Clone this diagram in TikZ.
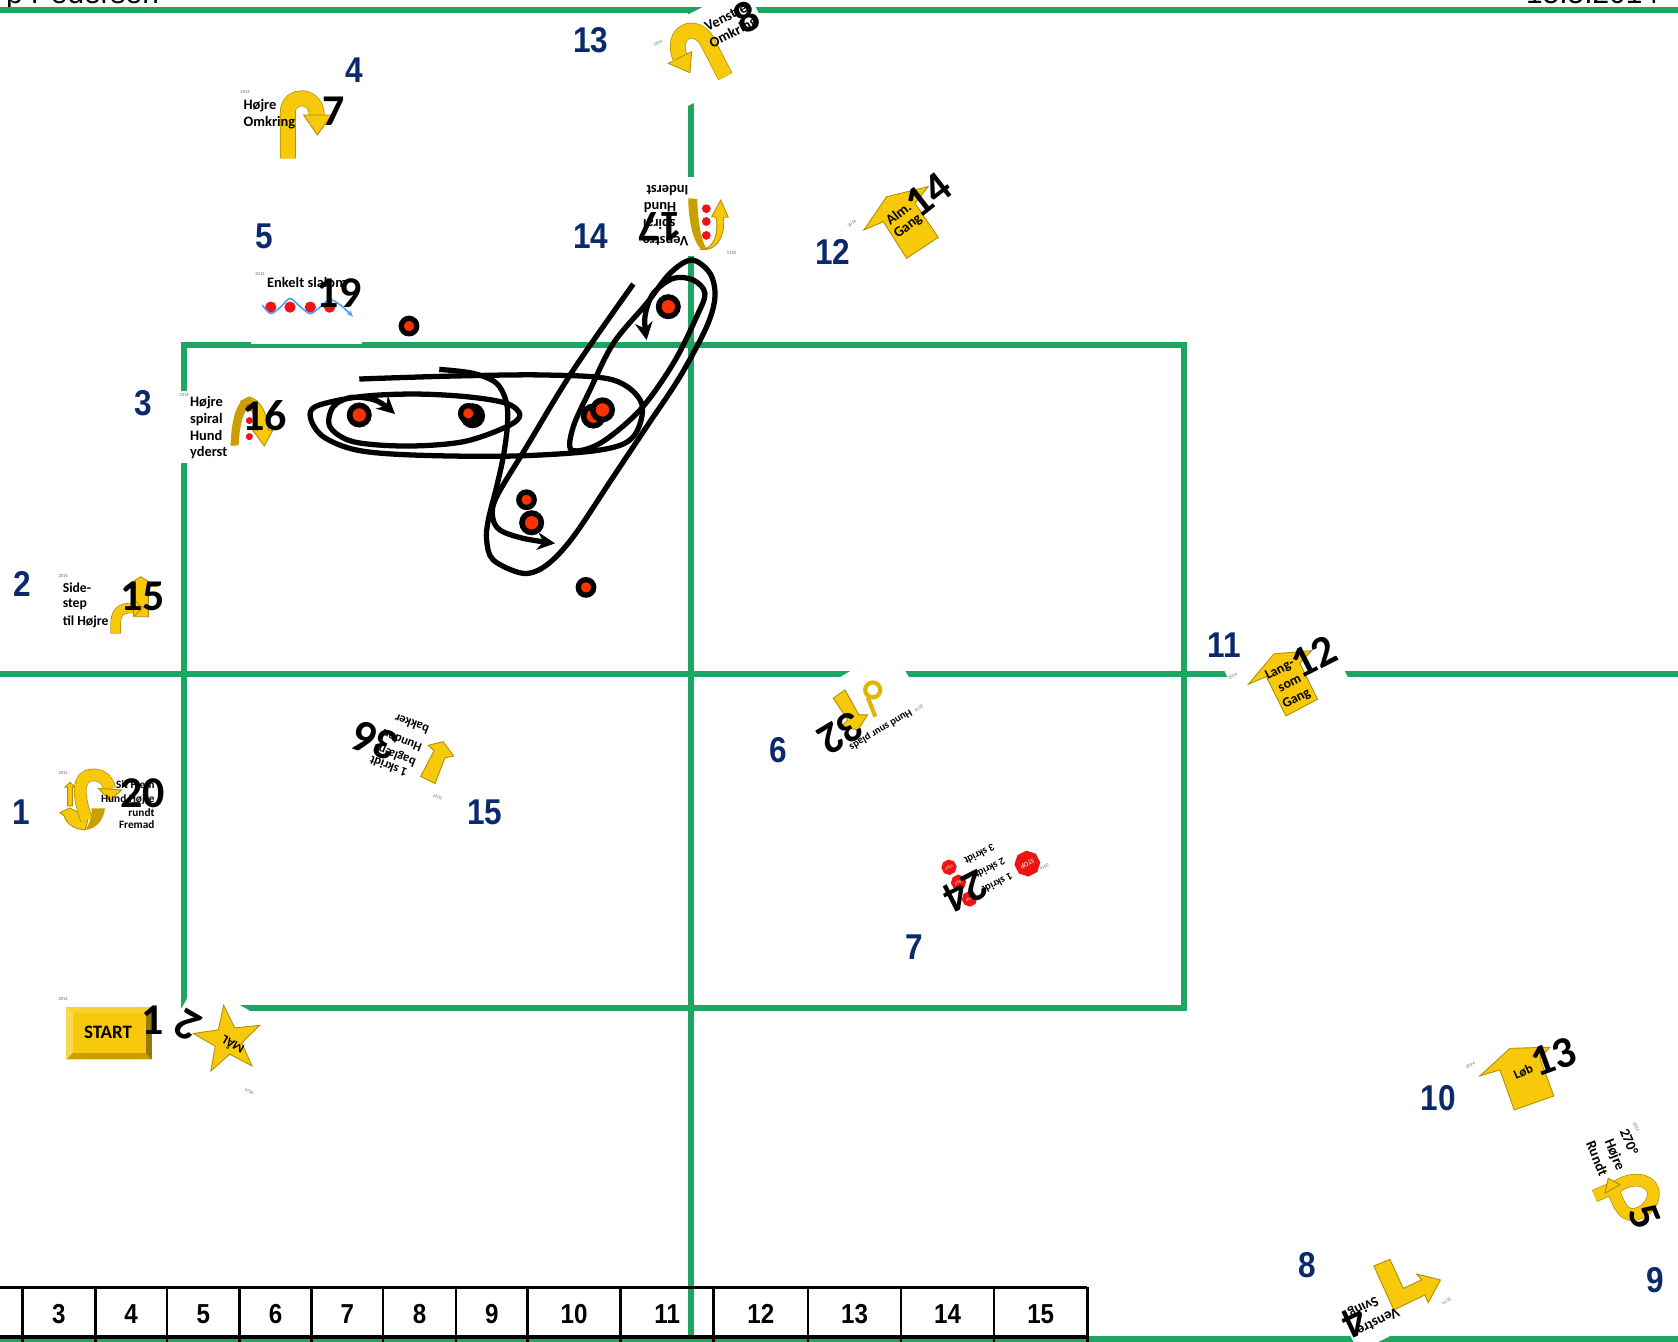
\documentclass[tikz,border=0pt]{standalone}
\usepackage{fontspec}
\usepackage{xcolor}
\usepackage{tikz}
\usetikzlibrary{arrows.meta, shapes.geometric, shapes.misc}
\setmainfont{Carlito}
\newfontfamily\numfont{Liberation Sans}
\newfontfamily\posfont[FakeStretch=0.88]{Liberation Sans}
\definecolor{ringgreen}{RGB}{30,165,97}
\definecolor{posblue}{RGB}{10,42,108}
\definecolor{signyellow}{RGB}{247,201,10}
\definecolor{signedge}{RGB}{176,143,0}
\definecolor{darkgold}{RGB}{201,160,0}
\definecolor{dotred}{RGB}{255,51,0}
\definecolor{stopred}{RGB}{238,20,20}
\newcommand{\sz}[1]{\fontsize{#1}{#1}\selectfont}
\newcommand{\cardmask}[5]{\fill[white, shift={(#1,#2)}, rotate=#3] (-#4/2,-#5/2) rectangle (#4/2,#5/2);}
\begin{document}
\begin{tikzpicture}[
    x=0.0107015cm, y=-0.0107015cm,
    ringline/.style={ringgreen, line width=1.7pt},
    poslabel/.style={font=\posfont\sz{10.2}\bfseries, text=posblue, inner sep=0pt},
    collabel/.style={font=\posfont\sz{7.8}\bfseries, inner sep=0pt},
    tableline/.style={black, line width=0.75pt},
    bignum/.style={font=\sz{12.5}\bfseries, inner sep=0pt},
    signtext/.style={font=\sz{#1}\bfseries, inner sep=0pt},
    signtext/.default=4.1,
    marktext/.style={font=\sz{1.3}, text=black!60, inner sep=0pt},
    plate/.style={fill=signyellow, draw=signedge, line width=0.25pt},
    tube/.style={draw=signedge, double=signyellow, double distance=#1, line width=0.2pt},
    tube/.default=4.1pt,
    smalldot/.style={circle, fill=dotred, draw=black, line width=1.5pt, minimum size=4.4pt, inner sep=0pt},
    bigdot/.style={circle, fill=dotred, draw=black, line width=1.6pt, minimum size=5.5pt, inner sep=0pt},
    slalomdot/.style={circle, fill=stopred, minimum size=3.2pt, inner sep=0pt},
    stopsign/.style={regular polygon, regular polygon sides=8, fill=stopred, text=white, inner sep=0pt},
    route/.style={black, line width=1.5pt, line join=round},
    routetip/.style={-{Stealth[length=5pt,width=5pt]}}
  ]
    \useasboundingbox (0,0) rectangle (1568,1254);
    \clip (0,0) rectangle (1568,1254);

    \node[font=\numfont\sz{8.5}, anchor=base west, inner sep=0pt] (trial) at (5,3) {p Pedersen};
    \node[font=\numfont\sz{8.5}, anchor=base east, inner sep=0pt] (date) at (1551,3) {15.5.2014};

    \draw[ringline] (0,9.5) -- (1568,9.5);
    \draw[ringline] (0,1251) -- (1568,1251);
    \draw[ringline] (0,630) -- (1568,630);
    \draw[ringline] (646,9.5) -- (646,1254);
    \draw[ringline] (172,322) rectangle (1106,942);

    \cardmask{286.5}{285.5}{0}{103}{71}
    \cardmask{213}{399}{0}{90}{68}
    \cardmask{641.5}{202}{0}{97}{74}
    \cardmask{669}{43}{27}{99}{76}
    \cardmask{1207}{640}{27}{100}{90}
    \cardmask{801}{664}{211}{115}{70}
    \cardmask{196}{986.5}{150}{90}{110}
    \cardmask{1296}{1205}{207}{100}{80}

    \foreach \x/\y/\r [count=\i] in {229/86/0, 172/369/0, 243/256/0, 59/538/0, 59/722/0, 59/934/0, 233/1020/150, 615/40/27, 684/236/180, 796/209/38, 1152/632/27, 859/662/211, 409/745/159, 976/810/207, 1374/995/24, 1529/1053/-68, 1352/1216/207}
      \node[marktext, rotate=\r] (mark\i) at (\x,\y) {2014};

    % start
    \fill[signyellow!70!white] (62,941) rectangle (142,990);
    \fill[signyellow!85!white] (62,941) -- (142,941) -- (136,947) -- (68,947) -- cycle;
    \fill[darkgold] (62,990) -- (142,990) -- (136,984) -- (68,984) -- cycle;
    \fill[signedge!85!black] (142,941) -- (142,990) -- (136,984) -- (136,947) -- cycle;
    \fill[signyellow] (68,947) rectangle (136,984);
    \node[signtext=5.4] (starttext) at (101,965) {START};
    \node[bignum] (num1) at (143,953) {1};

    % finish
    \node[star, star points=5, star point ratio=2.5, plate, minimum size=20pt, inner sep=0pt, rotate=7] (finish) at (213,972) {};
    \node[signtext=3.6, rotate=150] (finishtext) at (217,977) {MÅL};
    \node[bignum, rotate=150] (num2) at (175,958) {2};

    % turn right
    \draw[tube] (269,148) -- (269,105) .. controls (269,87) and (296,87) .. (296,108);
    \fill[plate] (283.7,107.5) -- (296.5,126) -- (310,107.5) -- cycle;
    \node[signtext, anchor=west] (rturna) at (227,99) {Højre};
    \node[signtext, anchor=west] (rturnb) at (227,115) {Omkring};
    \node[bignum] (num7) at (312,104) {7};

    % slalom
    \foreach \x [count=\i] in {253,271,290,308}
      \node[slalomdot] (slalom\i) at (\x,287) {};
    \draw[blue!55!cyan!70!white, line width=0.45pt, -{Stealth[length=2pt]}] plot[smooth] coordinates {(245,285) (253,293) (262,287) (271,279) (281,287) (290,293) (299,287) (308,280) (318,285) (330,296)};
    \node[signtext, anchor=west] (slalomtext) at (249,264) {Enkelt slalom};
    \node[bignum] (num19) at (317,274) {19};

    % right spiral
    \fill[plate] (233,371) .. controls (242,373) and (250,385) .. (251,402) -- (255,402) -- (247,416.8) -- (236,402) -- (241,402) .. controls (240,390) and (234,378) .. (225,375) -- cycle;
    \fill[darkgold] (215.5,416.8) .. controls (216,390) and (222,372) .. (233,371) -- (238,376) .. controls (228,380) and (224,395) .. (223,416) -- cycle;
    \foreach \y [count=\i] in {381,393,408}
      \node[slalomdot, minimum size=2pt] (rspiral\i) at (233,\y) {};
    \node[signtext, anchor=west] (rspirala) at (177,376) {Højre};
    \node[signtext, anchor=west] (rspiralb) at (177,392) {spiral};
    \node[signtext, anchor=west] (rspiralc) at (177,407) {Hund};
    \node[signtext, anchor=west] (rspirald) at (177,423) {yderst};
    \node[bignum] (num16) at (247,388) {16};

    % sidestep
    \fill[plate] (126.2,576.3) -- (138.6,576.3) -- (138.6,548) -- (146.4,548) -- (131.5,539) -- (116.8,548) -- (126.2,548) -- cycle;
    \draw[tube=2.6pt] (108,592) -- (108,585) .. controls (108,572) and (112,568) .. (124.6,568);
    \fill[plate] (124.6,559.7) -- (133.3,568) -- (124.6,576.3) -- cycle;
    \node[signtext=3.9, anchor=west] (sidea) at (58,549) {Side-};
    \node[signtext=3.9, anchor=west] (sideb) at (58,565) {step};
    \node[signtext=3.9, anchor=west] (sidec) at (58,581) {til Højre};
    \node[bignum] (num15) at (133,557) {15};

    % sit forward
    \fill[plate] (63.2,753) -- (67.6,753) -- (67.6,735.5) -- (70,735.5) -- (65.4,730.9) -- (60.7,735.5) -- (63.2,735.5) -- cycle;
    \fill[darkgold] (85.6,755.4) -- (98.1,755.4) .. controls (97,766) and (90,775) .. (79.4,775.5) .. controls (84,770) and (86,762) .. (85.6,755.4) -- cycle;
    \fill[plate] (56,759.4) -- (65,755) -- (77,761) -- (82,767) -- (79.4,775.5) .. controls (70,775) and (62,770) .. (60,762.5) -- cycle;
    \draw[tube=3.2pt] (81,766) .. controls (73,745) and (71,724) .. (87.2,724.2) .. controls (96,724) and (101,730) .. (102.5,737.3);
    \fill[plate] (91.9,736.7) -- (102.8,748) -- (113.5,738.2) -- cycle;
    \node[signtext=3.2, anchor=east] (sita) at (145,733) {Sit Frem};
    \node[signtext=3.2, anchor=east] (sitb) at (145,747) {Hund Højre};
    \node[signtext=3.2, anchor=east] (sitc) at (145,759) {rundt};
    \node[signtext=3.2, anchor=east] (sitd) at (145,771) {Fremad};
    \node[bignum] (num20) at (133,741) {20};

    % back up
    \fill[plate] (393.1,725.5) -- (406.5,732.2) -- (415.9,708) -- (424,706.5) -- (414,693) -- (400,696.5) -- (405.6,701.5) -- cycle;
    \node[signtext=3.6, rotate=159] (backa) at (363,716.5) {1 skridt};
    \node[signtext=3.6, rotate=159] (backb) at (369,705) {baglæns};
    \node[signtext=3.6, rotate=159] (backc) at (375.4,692.5) {Hunden};
    \node[signtext=3.6, rotate=159] (backd) at (384.7,676.5) {bakker};
    \node[bignum, rotate=159] (num36) at (350.4,693) {36};

    % turn left
    \draw[tube] (677.8,71.6) -- (661,39) .. controls (650,19) and (626,30) .. (635.4,53.7);
    \fill[plate] (624.5,59.2) -- (644.7,67.9) -- (646.3,48.3) -- cycle;
    \node[signtext, rotate=27, anchor=west] (lturna) at (658.7,26) {Venstre};
    \node[signtext, rotate=27, anchor=west] (lturnb) at (663.4,42) {Omkring};
    \node[bignum, rotate=27] (num8) at (697.7,15.6) {8};

    % left spiral
    \fill[plate] (655.6,233) .. controls (668,233) and (672,215) .. (669,203) -- (665,202.5) -- (673.4,187) -- (680.5,203) -- (676,203) .. controls (678,220) and (670,235) .. (655.6,233) -- cycle;
    \fill[darkgold] (643.2,185.3) -- (651.6,186) .. controls (652,205) and (655,225) .. (660,232) -- (655.6,233) .. controls (648,228) and (643,205) .. (643.2,185.3) -- cycle;
    \foreach \y [count=\i] in {195,207,220}
      \node[slalomdot, minimum size=2.5pt] (lspiral\i) at (660,\y) {};
    \node[signtext, rotate=180, anchor=west] (lspirala) at (644,178) {Inderst};
    \node[signtext, rotate=180, anchor=west] (lspiralb) at (632.5,194) {Hund};
    \node[signtext, rotate=180, anchor=west] (lspiralc) at (632,209) {spiral};
    \node[signtext, rotate=180, anchor=west] (lspirald) at (644,225) {Venstre};
    \node[bignum, rotate=180] (num17) at (617,212) {17};

    % normal pace
    \fill[plate] (807.3,214.9) -- (828.5,183.8) -- (867.4,174.4) -- (855,190) -- (876.8,221.8) -- (847.2,241.4) -- (825.4,207.2) -- cycle;
    \node[signtext, rotate=38] (almo) at (839.4,199.4) {Alm.};
    \node[signtext, rotate=38] (almb) at (848.7,211.8) {Gang};
    \node[bignum, rotate=38] (num14) at (867.4,182) {14};

    % slow pace
    \fill[plate] (1166.5,639.4) -- (1190.5,611) -- (1225.7,608) -- (1214.6,619.8) -- (1231.2,653.4) -- (1201.6,669) -- (1183.2,632.3) -- cycle;
    \node[signtext=3.9, rotate=27] (slowa) at (1196,626) {Lang-};
    \node[signtext=3.9, rotate=27] (slowb) at (1205.3,639) {som};
    \node[signtext=3.9, rotate=27] (slowc) at (1211.6,653.4) {Gang};
    \node[bignum, rotate=27] (num12) at (1227.5,613.6) {12};

    % dog turns
    \fill[plate] (778.6,652.5) -- (789.6,644.7) -- (802.6,668) -- (810.7,668) -- (801.8,682) -- (786,679) -- (792.2,672.8) -- cycle;
    \draw[signyellow!90!black, line width=1.2pt] (815.5,644.7) circle (7);
    \draw[signyellow!90!black, line width=1.2pt] (811,652) -- (818,669.6);
    \node[signtext=3, rotate=211] (turnplace) at (823,682) {Hund snur plads};
    \node[bignum, rotate=211] (num32) at (786,685) {32};

    % halts
    \node[stopsign, minimum size=7.4pt, font=\sz{2}, rotate=207] (stopa) at (960,807) {STOP};
    \node[stopsign, minimum size=4.4pt, font=\sz{1.1}, rotate=207] (stopb) at (886.8,810.4) {STOP};
    \node[stopsign, minimum size=4.4pt, font=\sz{1.1}, rotate=207] (stopc) at (895.7,824.5) {STOP};
    \node[stopsign, minimum size=4.4pt, font=\sz{1.1}, rotate=207] (stopd) at (906,840) {STOP};
    \node[signtext=3, rotate=207] (halta) at (915.3,798.3) {3 skridt};
    \node[signtext=3, rotate=207] (haltb) at (925.2,811.4) {2 skridt};
    \node[signtext=3, rotate=207] (haltc) at (932,825.4) {1 skridt};
    \node[bignum, rotate=207] (num24) at (902.3,833.2) {24};

    % run
    \fill[plate] (1382.9,1005.4) -- (1410.9,979.6) -- (1448.3,978.6) -- (1439,989) -- (1452,1024.1) -- (1415,1037.2) -- (1401.6,999.8) -- cycle;
    \node[signtext=3.7, rotate=24] (runtext) at (1423.4,1001.4) {Løb};
    \node[bignum, rotate=20] (num13) at (1451.4,987.4) {13};

    % 270 turn
    \draw[tube=3.2pt] (1490,1117.6) -- (1512,1108) .. controls (1528,1098) and (1546,1103) .. (1545,1117) .. controls (1544,1130) and (1525,1142) .. (1516,1130) .. controls (1512,1125) and (1510,1118) .. (1507,1112);
    \fill[plate] (1502.8,1101) -- (1499.7,1115) -- (1513.7,1107) -- cycle;
    \node[signtext, rotate=-68] (aroundb) at (1522.5,1066.8) {270°};
    \node[signtext, rotate=-68] (arounda) at (1508.4,1079.3) {Højre};
    \node[signtext, rotate=-68] (aroundc) at (1492.5,1082.4) {Rundt};
    \node[bignum, rotate=-68] (num5) at (1537,1136.9) {5};

    % left corner
    \fill[plate] (1283.8,1183) -- (1298.8,1176.8) -- (1311.3,1203.9) -- (1328.4,1196) -- (1323.7,1190.5) -- (1346.1,1196) -- (1334.6,1217.3) -- (1331.5,1210.1) -- (1302.5,1224.1) -- cycle;
    \node[signtext, rotate=207] (cornera) at (1287.9,1235) {Venstre};
    \node[signtext, rotate=207] (cornerb) at (1273.9,1221) {Sving};
    \node[bignum, rotate=205] (num4) at (1266,1235) {4};

    % handler path
    \begin{scope}[shift={(261.6,224.3)}, scale=0.3115]
      \draw[route, routetip] plot[smooth, tension=0.55] coordinates {(238,417) (520,408) (800,405) (1000,420) (1085,490) (1060,590) (960,630) (700,648) (400,645) (230,630) (130,590) (92,535) (110,498) (240,470) (400,462) (560,470) (680,490) (720,525) (680,560) (550,605) (380,618) (220,605) (150,560) (160,500) (215,472) (290,482) (345,522)};
      \draw[route, routetip] plot[smooth, tension=0.55] coordinates {(478,388) (580,400) (650,430) (680,490) (682,560) (670,650) (650,740) (625,840) (620,900) (640,960) (730,1000) (800,975) (880,890) (1000,710) (1100,560) (1200,410) (1280,260) (1305,170) (1290,100) (1235,60) (1170,100) (1100,190) (1000,310) (930,450) (880,560) (875,630) (960,610) (1080,510) (1180,370) (1250,230) (1275,160) (1240,120) (1180,115) (1120,160) (1095,230) (1100,300)};
      \draw[route, routetip] plot[smooth, tension=0.55] coordinates {(1060,132) (880,390) (740,620) (650,770) (638,830) (660,870) (730,895) (825,910)};
    \end{scope}

    \node[bigdot, fill=black] (cone2b) at (441.6,388.5) {};
    \node[bigdot] (cone4b) at (554.4,388.8) {};
    \node[smalldot] (cone1) at (382.2,304.7) {};
    \node[bigdot] (cone2) at (335.7,387.8) {};
    \node[smalldot] (cone3) at (437.6,386.3) {};
    \node[bigdot] (cone4) at (563,383) {};
    \node[bigdot] (cone5) at (624.5,286.6) {};
    \node[smalldot] (cone6) at (492,467) {};
    \node[bigdot] (cone7) at (496.8,488.5) {};
    \node[smalldot] (cone8) at (547.6,548.9) {};

    \foreach \x/\y/\t in {552/38/13, 331/66/4, 247/221/5, 552/221/14, 778/235/12, 134/377/3, 21/546/2, 1144/603/11, 727/701/6, 20/759/1, 453/759/15, 854/885/7, 1344/1026/10, 1222/1182/8, 1547/1196/9}
      \node[poslabel] (pos\t) at (\x,\y) {\t};

    % table
    \fill[white] (0,1203) rectangle (1016,1249);
    \draw[ringline] (646,1203) -- (646,1249);
    \draw[tableline, line width=1pt] (0,1203) -- (1016,1203);
    \draw[tableline, line width=1pt] (0,1249.5) -- (1016,1249.5);
    \foreach \x in {21,89,156,224,291,358,426,493,580,667,755,842,929,1016}
      \draw[tableline] (\x,1203) -- (\x,1254);
    \foreach \x/\t in {55/3, 122.5/4, 190/5, 257.5/6, 324.5/7, 392/8, 459.5/9, 536.5/10, 623.5/11, 711/12, 798.5/13, 885.5/14, 972.5/15}
      \node[collabel] (col\t) at (\x,1228) {\t};
  \end{tikzpicture}
\end{document}
